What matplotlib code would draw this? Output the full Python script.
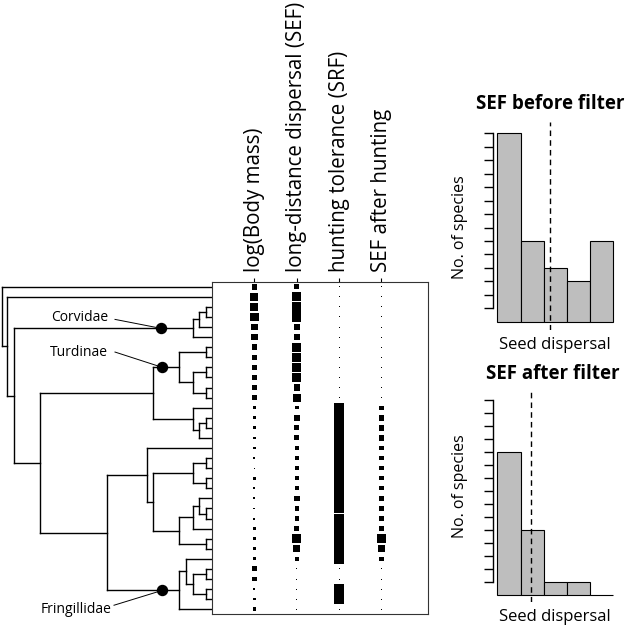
import matplotlib.pyplot as plt
import numpy as np

plt.rcParams['font.family'] = ['Open Sans', 'DejaVu Sans']

W, H = 630, 626

# phylogeny: (node depth, child, child); tips are row numbers 0..32
corvidae = (192.7, (199.0, (206.0, 2, 3), 4), 5)
turdinae = (179.3, (206.3, 6, 7), (192.7, (206.3, 8, 9), (206.3, 10, 11)))
fringillidae = (179.3, (186.0, 27, (192.7, (206.0, 28, 29), (206.0, 30, 31))), 32)
tree = (1.7, 0,
        (7.3, 1,
         (14.0, corvidae,
          (40.0,
           (152.7, turdinae, (192.7, 12, (199.3, (206.3, 13, 14), 15))),
           (106.7,
            (146.7, 16,
             (153.3,
              (192.7, (206.0, 17, 18), (206.0, 19, 20)),
              (179.3, (192.7, (199.3, 21, (206.0, 22, 23)), 24), (206.0, 25, 26)))),
            fringillidae)))))
tip_depth = 212.0
clade_names = ['Corvidae', 'Turdinae', 'Fringillidae']
clade_nodes = [corvidae, turdinae, fringillidae]

# traits per species (relative, 0-1)
trait_names = ['log(Body mass)', 'long-distance dispersal (SEF)',
               'hunting tolerance (SRF)', 'SEF after hunting']
body_mass = [0.57, 0.79, 0.79, 0.86, 0.64, 0.64, 0.57, 0.5, 0.57, 0.57, 0.5, 0.57,
             0.25, 0.29, 0.29, 0.25, 0.29, 0.18, 0.11, 0.32, 0.18, 0.21, 0.18, 0.21,
             0.29, 0.29, 0.29, 0.29, 0.5, 0.46, 0.21, 0.25, 0.36]
sef = [0.54, 0.93, 0.93, 0.93, 0.64, 0.64, 0.93, 0.86, 0.93, 0.93, 0.64, 0.79,
       0.36, 0.57, 0.5, 0.5, 0.43, 0.43, 0.43, 0.43, 0.43, 0.57, 0.43, 0.43,
       0.5, 0.86, 0.71, 0.43, 0.1, 0.1, 0.1, 0.1, 0.1]
srf = [0.1] * 12 + [1.0] * 16 + [0.1, 0.1, 1.0, 1.0, 0.1]
sef_hunt = [0.1] * 12 + [0.43, 0.57, 0.57, 0.57, 0.43, 0.43, 0.43, 0.43, 0.43, 0.57,
                         0.43, 0.43, 0.57, 0.93, 0.71, 0.43] + [0.1] * 5
traits = [body_mass, sef, srf, sef_hunt]

# histograms of seed dispersal
bin_edges = [0.0, 0.2, 0.4, 0.6, 0.8, 1.0]
counts_before = [14, 6, 4, 3, 6]
counts_after = [11, 5, 1, 1, 0]
mean_before = 0.454
mean_after = 0.288

fig = plt.figure(figsize=(W / 100, H / 100), dpi=100)


def px_axes(x0, y0, x1, y1):
    return fig.add_axes([x0 / W, 1 - y1 / H, (x1 - x0) / W, (y1 - y0) / H])


def node_y(node):
    if isinstance(node, int):
        return node
    return (node_y(node[1]) + node_y(node[-1])) / 2


def draw_node(ax, node):
    if isinstance(node, int):
        return
    d = node[0]
    ys = [node_y(c) for c in node[1:]]
    ax.plot([d, d], [min(ys), max(ys)], color='k', lw=1)
    for c, yc in zip(node[1:], ys):
        cd = tip_depth if isinstance(c, int) else c[0]
        ax.plot([d, cd], [yc, yc], color='k', lw=1)
        draw_node(ax, c)


n_sp = len(body_mass)
ylim = (n_sp - 1 + 0.47, -0.47)

# tree
ax_t = px_axes(0, 282, 212, 614)
draw_node(ax_t, tree)
ax_t.set_xlim(0, tip_depth)
ax_t.set_ylim(*ylim)
ax_t.axis('off')

dot_x = [160.7, 162.3, 162.3]
label_pos = [(108, 3.1), (108, 6.48), (111, 32.0)]
leader_start = [(115, 3.24), (115, 6.48), (114, 31.6)]
for name, node, dx, lp, ls in zip(clade_names, clade_nodes, dot_x, label_pos, leader_start):
    ny = node_y(node)
    ax_t.plot([ls[0], dx], [ls[1], ny], color='k', lw=0.7, clip_on=False)
    ax_t.plot(dx, ny, 'o', color='k', ms=7.2, clip_on=False)
    ax_t.text(lp[0], lp[1], name, ha='right', va='center', fontsize=10, clip_on=False)

# trait panel
ax_p = px_axes(212, 282, 428, 614)
rows = np.arange(n_sp)
for j, vals in enumerate(traits):
    side = np.array(vals) * 10.0 * 0.72
    ax_p.scatter(np.full(n_sp, j + 1), rows, s=side ** 2, marker='s', c='k', linewidths=0)
    ax_p.annotate(trait_names[j], xy=(j + 1, 1), xycoords=('data', 'axes fraction'),
                  xytext=(0, 7.5), textcoords='offset points', rotation=90,
                  ha='center', va='bottom', fontsize=14.8)
ax_p.set_xlim(0, 5.1)
ax_p.set_ylim(*ylim)
ax_p.xaxis.tick_top()
ax_p.set_xticks([1, 2, 3, 4])
ax_p.set_xticklabels([])
ax_p.set_yticks([])
ax_p.tick_params(axis='x', length=3, width=0.8)
for s in ax_p.spines.values():
    s.set_linewidth(0.8)
    s.set_color('#333333')


def hist_panel(ax, counts, mean, title, ylo, yhi, ntick, ylab_y, title_x):
    ax.bar(bin_edges[:-1], counts, width=0.2, align='edge', color='#bebebe',
           edgecolor='k', lw=0.8)
    ax.axvline(mean, color='k', ls=(0, (4, 3)), lw=1)
    ax.set_xlim(-0.04, 1.04)
    ax.set_ylim(ylo, yhi)
    for s in ['top', 'right', 'bottom']:
        ax.spines[s].set_visible(False)
    ax.spines['left'].set_bounds(1, ntick)
    ax.spines['left'].set_linewidth(1)
    ax.set_yticks(range(1, ntick + 1))
    ax.set_yticklabels([])
    ax.tick_params(axis='y', length=6.7, width=1)
    ax.set_xticks([])
    ax.set_xlabel('Seed dispersal', fontsize=12, labelpad=5)
    ax.set_ylabel('No. of species', fontsize=11.5)
    ax.yaxis.set_label_coords(-0.197, ylab_y)
    ax.set_title(title, fontsize=13.5, fontweight='bold', pad=9, x=title_x)


ax_h1 = px_axes(492.7, 121.7, 618, 330)
hist_panel(ax_h1, counts_before, mean_before, 'SEF before filter', -0.6, 14.85, 14, 0.496, 0.46)
ax_h2 = px_axes(492.7, 391.7, 618, 602)
hist_panel(ax_h2, counts_after, mean_after, 'SEF after filter', -0.54, 15.6, 15, 0.552, 0.48)

fig.savefig('out.png', dpi=100, facecolor='white')
